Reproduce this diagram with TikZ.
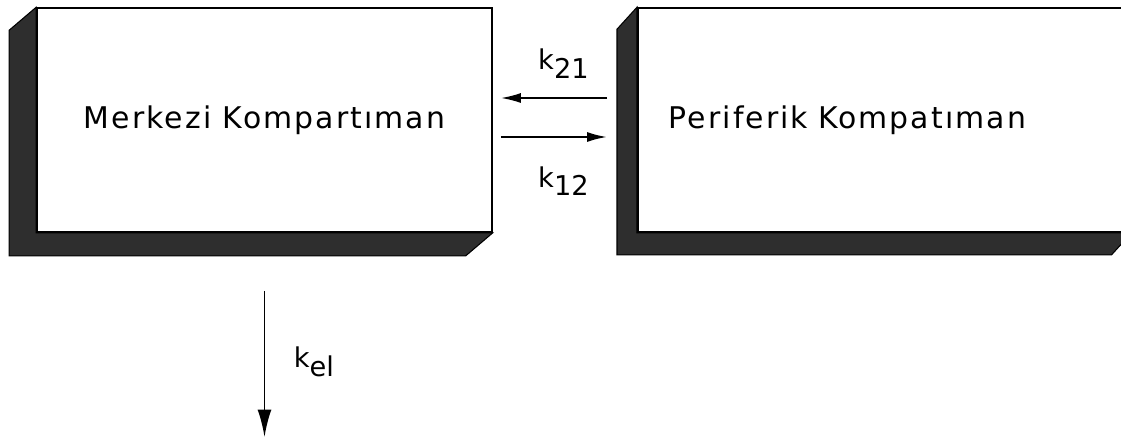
\documentclass[tikz,border=0pt]{standalone}
\usepackage{fontspec}
\setmainfont{DejaVu Sans}
\newfontfamily\boxfont[LetterSpace=7]{DejaVu Sans}
\usetikzlibrary{positioning}
\usetikzlibrary{arrows.meta}
\usetikzlibrary{calc}

\newcommand{\ksub}[1]{k\raisebox{-0.6ex}{#1}}

\begin{document}
\begin{tikzpicture}[
        every node/.style={font=\fontsize{15.5}{18}\selectfont},
        arrow/.style={-{Latex[length=4mm,width=2mm]}, line width=1.1pt, draw=black},
        bigarrow/.style={-{Latex[length=5.5mm,width=2.8mm]}, line width=1.1pt, draw=black},
        compbox/.style={draw=black, line width=0.9pt, fill=white, minimum height=4.48cm,
                        inner sep=0pt, font=\boxfont\fontsize{17}{20}\selectfont},
        depth/.style={fill=black!82, draw=black, line width=0.6pt}
    ]

        \useasboundingbox (0,0) rectangle (22.42,8.74);
        \clip (0,0) rectangle (22.42,8.74);

        % -------------------------------------------------
        % Kompartimanlar
        % -------------------------------------------------
        \node[compbox, minimum width=9.10cm] (merkezi) at (5.29,6.34) {Merkezi Kompartıman};
        \node[compbox, anchor=west, text width=8.62cm, align=left, inner xsep=0.62cm]
            (periferik) at (12.74,6.34) {Periferik Kompatıman};

        % Golge (derinlik)
        \foreach \b/\dx/\dy in {merkezi/-0.54/-0.46, periferik/-0.40/-0.44} {
            \filldraw[depth] (\b.north west) -- ++(\dx,\dy)
                -- ($(\b.south west)+(\dx,\dy)$) -- ($(\b.south east)+(\dx,\dy)$)
                -- (\b.south east) -- (\b.south west) -- cycle;
        }

        % -------------------------------------------------
        % Gecis oklari
        % -------------------------------------------------
        \draw[arrow, shorten >=0.16cm, shorten <=0.60cm]
            ([yshift=0.44cm]periferik.west) -- ([yshift=0.44cm]merkezi.east)
            node[above=0.25cm, pos=0.51] (k21) {\ksub{21}};
        \draw[arrow, shorten <=0.16cm, shorten >=0.60cm]
            ([yshift=-0.34cm]merkezi.east) -- ([yshift=-0.34cm]periferik.west)
            node[below=0.45cm, pos=0.49] (k12) {\ksub{12}};

        % Eliminasyon
        \coordinate (el) at (5.32,0.0);
        \draw[bigarrow, shorten <=1.16cm] (merkezi.south) -- (merkezi.south |- el)
            node[right=0.45cm, pos=0.63] (kel) {\ksub{el}};

    \end{tikzpicture}
\end{document}
